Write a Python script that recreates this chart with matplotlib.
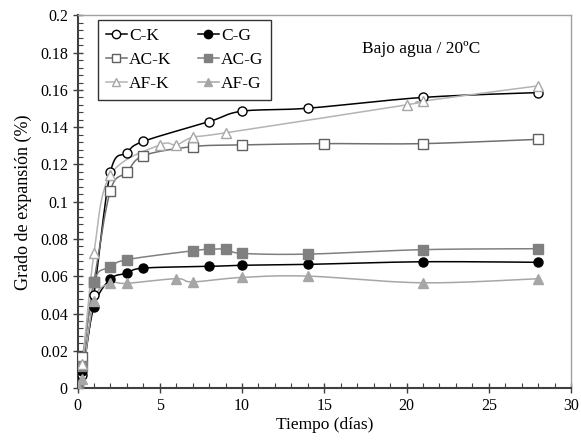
import numpy as np
import matplotlib
matplotlib.use("Agg")
import matplotlib.pyplot as plt
from matplotlib.ticker import MultipleLocator

plt.rcParams['font.family'] = ['Liberation Serif', 'DejaVu Serif']

# days / expansion (%)
dias_ck = [0, 0.3, 1, 2, 3, 4, 8, 10, 14, 21, 28]
ck = [0, 0.007, 0.050, 0.1158, 0.1263, 0.1324, 0.143, 0.1486, 0.1502, 0.156, 0.1586]

dias_cg = [0, 0.3, 1, 2, 3, 4, 8, 10, 14, 21, 28]
cg = [0, 0.009, 0.0437, 0.0585, 0.0616, 0.0644, 0.0653, 0.0659, 0.0664, 0.0678, 0.0675]

dias_ack = [0, 0.3, 1, 2, 3, 4, 7, 10, 15, 21, 28]
ack = [0, 0.0165, 0.057, 0.106, 0.1158, 0.1247, 0.1296, 0.1305, 0.1312, 0.1312, 0.1335]

dias_acg = [0, 0.3, 1, 2, 3, 7, 8, 9, 10, 14, 21, 28]
acg = [0, 0.012, 0.057, 0.0648, 0.0689, 0.0737, 0.0745, 0.0745, 0.0723, 0.0719, 0.0743, 0.0748]

dias_afk = [0, 0.3, 1, 2, 5, 6, 7, 9, 20, 21, 28]
afk = [0, 0.013, 0.0723, 0.1144, 0.1305, 0.1305, 0.1346, 0.137, 0.152, 0.154, 0.1622]

dias_afg = [0, 0.3, 1, 2, 3, 6, 7, 10, 14, 21, 28]
afg = [0, 0.005, 0.047, 0.0562, 0.0562, 0.0587, 0.057, 0.0594, 0.0601, 0.0565, 0.0587]


def suave(x, y, n=20):
    # catmull-rom like the excel smoothed line
    x = np.asarray(x, float); y = np.asarray(y, float)
    px = np.concatenate([[x[0]], x, [x[-1]]])
    py = np.concatenate([[y[0]], y, [y[-1]]])
    xs, ys = [], []
    for i in range(1, len(px) - 2):
        t = np.linspace(0, 1, n)
        c1x = px[i] + (px[i+1] - px[i-1]) / 6
        c1y = py[i] + (py[i+1] - py[i-1]) / 6
        c2x = px[i+1] - (px[i+2] - px[i]) / 6
        c2y = py[i+1] - (py[i+2] - py[i]) / 6
        bx = (1-t)**3*px[i] + 3*(1-t)**2*t*c1x + 3*(1-t)*t**2*c2x + t**3*px[i+1]
        by = (1-t)**3*py[i] + 3*(1-t)**2*t*c1y + 3*(1-t)*t**2*c2y + t**3*py[i+1]
        xs.extend(bx); ys.extend(by)
    return xs, ys


fig = plt.figure(figsize=(5.81, 4.41), dpi=100)
ax = fig.add_axes([0.1334, 0.120, 0.8494, 0.845])

series = [
    (dias_ck, ck, "C-K", "o", "white", "black", "black"),
    (dias_cg, cg, "C-G", "o", "black", "black", "black"),
    (dias_ack, ack, "AC-K", "s", "white", "#606060", "#707070"),
    (dias_acg, acg, "AC-G", "s", "#808080", "#808080", "#808080"),
    (dias_afk, afk, "AF-K", "^", "white", "#a6a6a6", "#b4b4b4"),
    (dias_afg, afg, "AF-G", "^", "#a6a6a6", "#a6a6a6", "#a6a6a6"),
]

handles = []
for x, y, lab, mk, fc, ec, lc in series:
    sx, sy = suave(x, y)
    ax.plot(sx, sy, color=lc, lw=1.1, zorder=2)
    ax.plot(x, y, ls="none", marker=mk, ms=6.5, mfc=fc, mec=ec, mew=1.0, zorder=3)
    h, = ax.plot([], [], color=lc, lw=1.1, marker=mk, ms=6, mfc=fc, mec=ec, mew=1.0)
    h.set_label(lab)
    handles.append(h)

# legend in row order C-K, C-G / AC-K, AC-G / AF-K, AF-G
orden = [handles[0], handles[2], handles[4], handles[1], handles[3], handles[5]]
leg = ax.legend(handles=orden, ncol=2, loc="upper left", bbox_to_anchor=(0.0415, 0.988),
                borderaxespad=0, fontsize=12.5, frameon=True, fancybox=False,
                edgecolor="black", handlelength=1.2, handletextpad=0.15,
                columnspacing=1.5, labelspacing=0.45, borderpad=0.45)
leg.get_frame().set_linewidth(1.0)

ax.text(0.697, 0.91, "Bajo agua / 20ºC", transform=ax.transAxes, fontsize=12.5,
        ha="center", va="center")

ax.set_xlim(0, 30)
ax.set_ylim(0, 0.2)
ax.xaxis.set_major_locator(MultipleLocator(5))
ax.xaxis.set_minor_locator(MultipleLocator(1))
ax.yaxis.set_minor_locator(MultipleLocator(0.004))
ax.set_yticks(np.arange(0, 0.2001, 0.02))
ax.set_yticklabels(["0", "0.02", "0.04", "0.06", "0.08", "0.1", "0.12", "0.14", "0.16", "0.18", "0.2"])

ax.tick_params(axis="both", which="major", direction="inout", length=7, width=1,
               labelsize=11.5, color="#404040")
ax.tick_params(axis="both", which="minor", direction="in", length=3.5, width=0.8,
               color="#404040")
ax.tick_params(axis="x", pad=4)

for s in ["left", "bottom"]:
    ax.spines[s].set_color("#404040")
    ax.spines[s].set_linewidth(1.5)
for s in ["top", "right"]:
    ax.spines[s].set_color("#a0a0a0")
    ax.spines[s].set_linewidth(1.0)

ax.set_xlabel("Tiempo (días)", fontsize=12.5, labelpad=2)
ax.set_ylabel("Grado de expansión (%)", fontsize=13, labelpad=6)

fig.savefig("out.png", dpi=100)
